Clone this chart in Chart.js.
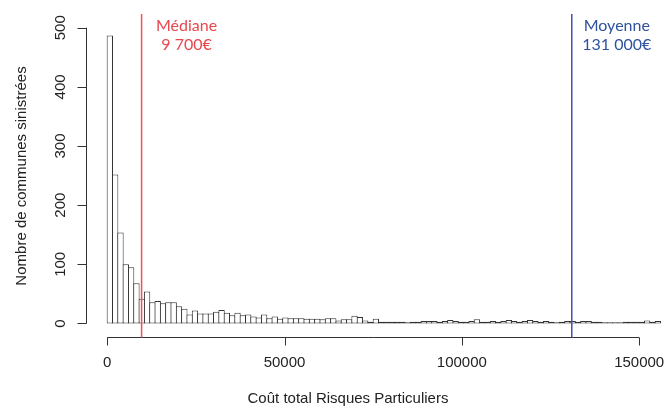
<!DOCTYPE html>
<html>
<head>
<meta charset="utf-8">
<script src="https://cdn.jsdelivr.net/npm/chart.js@4/dist/chart.umd.min.js"></script>
<style>
  body { margin: 0; background: #fff; }
  #histo { display: block; }
</style>
</head>
<body>
<canvas id="histo" width="664" height="410"></canvas>
<script>
// histogram bins of 1500 euros, starting at 0
const binWidth = 1500;
const counts = [
  487, 252, 154, 100, 95, 68, 42, 54, 36, 38,
  34, 36, 36, 29, 25, 15, 22, 17, 17, 17,
  20, 23, 18, 14, 18, 14, 15, 12, 10, 15,
  9, 12, 8, 10, 9, 9, 9, 8, 8, 8,
  7, 9, 9, 5, 7, 7, 13, 11, 5, 3,
  8, 3, 3, 3, 3, 3, 2, 3, 3, 4,
  4, 4, 3, 4, 6, 4, 3, 3, 4, 7,
  3, 3, 4, 3, 4, 6, 4, 3, 4, 6,
  4, 3, 4, 3, 2, 3, 4, 4, 3, 4,
  4, 3, 3, 2, 2, 2, 2, 3, 3, 3,
  3, 5, 3, 4
];
const xTicks = [0, 50000, 100000, 150000];
const yTicks = [0, 100, 200, 300, 400, 500];
const xTitle = 'Coût total Risques Particuliers';
const yTitle = 'Nombre de communes sinistrées';
const markers = [
  { value: 9700, label: 'Médiane', amount: '9 700€', line: '#f05252', text: '#e8474c' },
  { value: 131000, label: 'Moyenne', amount: '131 000€', line: '#3a55a5', text: '#2f52a0' }
];

const points = counts.map((c, i) => ({ x: i * binWidth + binWidth / 2, y: c }));

// R style axes + annotations, drawn from the chart scales
const rAxes = {
  id: 'rAxes',
  afterDatasetsDraw(chart) {
    const ctx = chart.ctx;
    const xs = chart.scales.x;
    const ys = chart.scales.y;

    ctx.save();
    ctx.strokeStyle = '#333';
    ctx.fillStyle = '#222';
    ctx.lineWidth = 1;
    ctx.font = '15px "Liberation Sans", Arial, sans-serif';

    // x axis
    const axY = 337.5;
    ctx.beginPath();
    ctx.moveTo(xs.getPixelForValue(xTicks[0]), axY);
    ctx.lineTo(xs.getPixelForValue(xTicks[xTicks.length - 1]), axY);
    xTicks.forEach(t => {
      const px = Math.round(xs.getPixelForValue(t)) + 0.5;
      ctx.moveTo(px, axY);
      ctx.lineTo(px, axY + 8);
    });
    ctx.stroke();
    ctx.textAlign = 'center';
    ctx.textBaseline = 'middle';
    xTicks.forEach(t => ctx.fillText(String(t), xs.getPixelForValue(t), 363));
    ctx.fillText(xTitle, 348, 399);

    // y axis
    const axX = 86.5;
    ctx.beginPath();
    ctx.moveTo(axX, ys.getPixelForValue(yTicks[0]));
    ctx.lineTo(axX, ys.getPixelForValue(yTicks[yTicks.length - 1]));
    yTicks.forEach(t => {
      const py = Math.round(ys.getPixelForValue(t)) + 0.5;
      ctx.moveTo(axX, py);
      ctx.lineTo(axX - 9, py);
    });
    ctx.stroke();
    yTicks.forEach(t => {
      ctx.save();
      ctx.translate(61, ys.getPixelForValue(t));
      ctx.rotate(-Math.PI / 2);
      ctx.fillText(String(t), 0, 0);
      ctx.restore();
    });
    ctx.save();
    ctx.translate(22, 176);
    ctx.rotate(-Math.PI / 2);
    ctx.fillText(yTitle, 0, 0);
    ctx.restore();

    // median / mean lines
    markers.forEach(m => {
      const px = xs.getPixelForValue(m.value);
      ctx.strokeStyle = m.line;
      ctx.lineWidth = 1.5;
      ctx.beginPath();
      ctx.moveTo(px, 14);
      ctx.lineTo(px, axY);
      ctx.stroke();
      ctx.fillStyle = m.text;
      ctx.font = '16px Lato, "Open Sans", sans-serif';
      ctx.fillText(m.label, px + 45, 26);
      ctx.fillText(m.amount, px + 45, 45);
    });
    ctx.restore();
  }
};

const chart = new Chart(document.getElementById('histo'), {
  type: 'bar',
  data: {
    datasets: [{
      data: points,
      backgroundColor: '#fff',
      borderColor: '#333',
      borderWidth: 1,
      borderSkipped: false,
      // bars overlap by one pixel so neighbours share a single edge line
      barPercentage: 1.19,
      categoryPercentage: 1
    }]
  },
  options: {
    responsive: false,
    animation: false,
    layout: { padding: { left: 93, right: 0, top: 16, bottom: 78 } },
    scales: {
      x: { type: 'linear', min: -4000, max: 157000, offset: false, display: false },
      y: { min: -14.4, max: 519.8, display: false }
    },
    plugins: {
      legend: { display: false },
      tooltip: { enabled: false }
    }
  },
  plugins: [rAxes]
});
</script>
</body>
</html>
